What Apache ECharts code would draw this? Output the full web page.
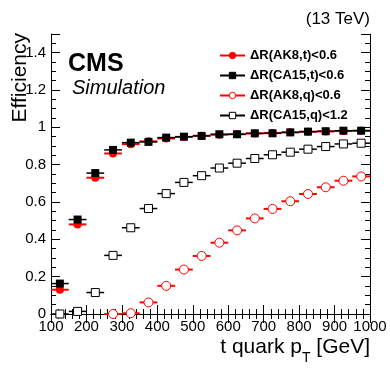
<!DOCTYPE html>
<html>
<head>
<meta charset="utf-8">
<script src="https://cdn.jsdelivr.net/npm/echarts@6/dist/echarts.min.js"></script>
<style>
  html, body { margin: 0; padding: 0; background: #fff; }
  #chart { width: 390px; height: 372px; }
</style>
</head>
<body>
<div id="chart"></div>
<script>
// t quark pT bins (GeV), centres, 50 GeV wide
var binCenters = [125, 175, 225, 275, 325, 375, 425, 475, 525, 575, 625, 675, 725, 775, 825, 875, 925, 975]
var binHalfWidth = 25

var ak8Top = [0.13, 0.48, 0.73, 0.86, 0.91, 0.925, 0.94, 0.948, 0.955, 0.96, 0.963, 0.967, 0.97, 0.973, 0.976, 0.978, 0.98, 0.982]
var ca15Top = [0.163, 0.506, 0.755, 0.879, 0.918, 0.922, 0.945, 0.95, 0.954, 0.963, 0.963, 0.968, 0.968, 0.973, 0.977, 0.979, 0.982, 0.982]
var ak8Quark = [null, null, null, 0.0, 0.004, 0.062, 0.151, 0.238, 0.311, 0.382, 0.448, 0.512, 0.563, 0.604, 0.643, 0.679, 0.714, 0.737]
var ca15Quark = [0.0, 0.014, 0.115, 0.314, 0.462, 0.565, 0.645, 0.705, 0.741, 0.782, 0.808, 0.833, 0.853, 0.867, 0.883, 0.897, 0.911, 0.915]

var seriesNames = ['ΔR(AK8,t)<0.6', 'ΔR(CA15,t)<0.6', 'ΔR(AK8,q)<0.6', 'ΔR(CA15,q)<1.2']

var FONT = "'Liberation Sans', Arial, Helvetica, sans-serif"

function pairs(values) {
  return binCenters.map(function (x, i) { return [x, values[i]] })
}

// horizontal bin-width bars
function errorBars(values, color, width) {
  return {
    type: 'custom',
    silent: true,
    clip: false,
    data: pairs(values),
    z: 1,
    renderItem: function (params, api) {
      var y = api.value(1)
      if (y == null || isNaN(y)) return
      var a = api.coord([api.value(0) - binHalfWidth, y])
      var b = api.coord([api.value(0) + binHalfWidth, y])
      return {
        type: 'line',
        shape: { x1: a[0], y1: a[1], x2: b[0], y2: b[1] },
        style: { stroke: color, lineWidth: width }
      }
    }
  }
}

function markers(name, values, symbol, size, color, open) {
  return {
    name: name,
    type: 'line',
    data: pairs(values),
    symbol: symbol,
    symbolSize: size,
    showAllSymbol: true,
    clip: false,
    z: 3,
    lineStyle: { color: color, opacity: 0 },
    itemStyle: open
      ? { color: '#fff', borderColor: color, borderWidth: 1 }
      : { color: color, borderColor: color, borderWidth: 0 }
  }
}

var tickCommon = {
  axisLine: { lineStyle: { color: '#000', width: 1 } },
  axisTick: { inside: true, length: 9, lineStyle: { color: '#000' } },
  splitLine: { show: false }
}

function xAxisCfg(position, showLabels) {
  return Object.assign({
    type: 'value',
    position: position,
    min: 100,
    max: 1000,
    interval: 100,
    minorTick: { show: true, splitNumber: 5, length: 5, lineStyle: { color: '#000' } },
    axisLabel: {
      show: showLabels, color: '#000', fontSize: 15, fontFamily: FONT, margin: 5,
      formatter: function (v) { return String(v) }
    }
  }, tickCommon)
}

function yAxisCfg(position, showLabels) {
  return Object.assign({
    type: 'value',
    position: position,
    min: 0,
    max: 1.5,
    interval: 0.2,
    minorTick: { show: true, splitNumber: 4, length: 5, lineStyle: { color: '#000' } },
    axisLabel: { show: showLabels, showMaxLabel: false, color: '#000', fontSize: 15, fontFamily: FONT, margin: 5 }
  }, tickCommon)
}

var chart = echarts.init(document.getElementById('chart'))

chart.setOption({
  animation: false,
  backgroundColor: '#fff',
  grid: { left: 51, right: 20, top: 34, bottom: 58 },
  xAxis: [xAxisCfg('bottom', true), xAxisCfg('top', false)],
  yAxis: [yAxisCfg('left', true), yAxisCfg('right', false)],
  legend: {
    orient: 'vertical',
    left: 214,
    top: 44,
    itemWidth: 25,
    itemHeight: 8,
    itemGap: 7,
    selectedMode: false,
    data: seriesNames,
    lineStyle: { width: 2, opacity: 1 },
    itemStyle: { borderWidth: 1 },
    textStyle: { color: '#000', fontSize: 13, fontWeight: 'bold', fontFamily: FONT }
  },
  graphic: [
    { type: 'text', x: 370, y: 19, style: { text: '(13 TeV)', align: 'right', verticalAlign: 'middle', fill: '#000', fontSize: 17, fontFamily: FONT } },
    { type: 'text', x: 68, y: 64, style: { text: 'CMS', align: 'left', verticalAlign: 'middle', fill: '#000', fontSize: 25, fontWeight: 'bold', fontFamily: FONT } },
    { type: 'text', x: 72, y: 88, style: { text: 'Simulation', align: 'left', verticalAlign: 'middle', fill: '#000', fontSize: 20, fontStyle: 'italic', fontFamily: FONT } },
    { type: 'text', x: 20, y: 33, rotation: Math.PI / 2, style: { text: 'Efficiency', align: 'right', verticalAlign: 'middle', fill: '#000', fontSize: 21, fontFamily: FONT } },
    {
      type: 'text', x: 370, y: 347,
      style: {
        text: '{a|t quark p}{s|T}{a| [GeV]}',
        align: 'right', verticalAlign: 'middle', fill: '#000', fontFamily: FONT,
        rich: {
          a: { fontSize: 21, fontFamily: FONT, fill: '#000' },
          s: { fontSize: 14, fontFamily: FONT, fill: '#000', padding: [22, 0, 0, 0] }
        }
      }
    }
  ],
  series: [
    errorBars(ak8Quark, '#ff0000', 2),
    errorBars(ca15Quark, '#000', 1.5),
    errorBars(ak8Top, '#ff0000', 2),
    errorBars(ca15Top, '#000', 1.5),
    markers(seriesNames[0], ak8Top, 'circle', 8, '#ff0000', false),
    markers(seriesNames[1], ca15Top, 'rect', 8, '#000', false),
    markers(seriesNames[2], ak8Quark, 'circle', 9, '#ff0000', true),
    markers(seriesNames[3], ca15Quark, 'rect', 8, '#000', true)
  ]
})
</script>
</body>
</html>
